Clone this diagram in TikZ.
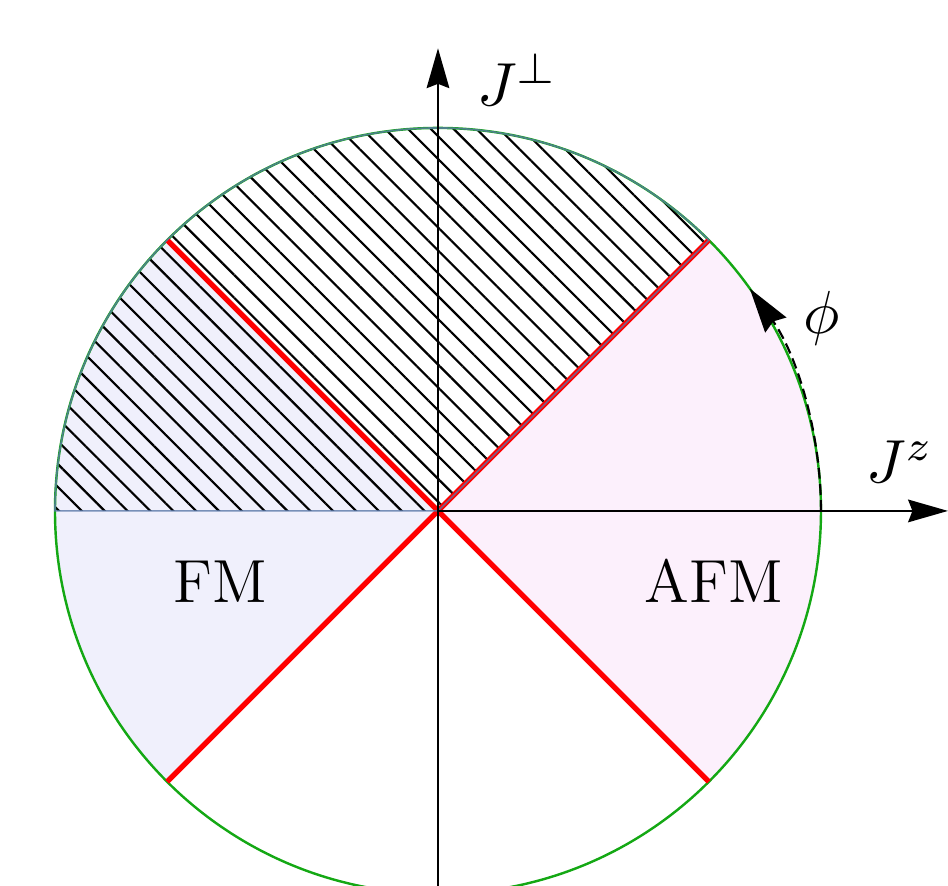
\RequirePackage{fix-cm}
\documentclass[tikz,border=0pt]{standalone}
\usepackage{amsmath,amssymb}
\usetikzlibrary{arrows.meta,patterns.meta}
\definecolor{fmblue}{HTML}{F0F0FC}
\definecolor{afmpink}{HTML}{FCF0FC}
\definecolor{circgreen}{HTML}{14A814}
\definecolor{edgeblue}{HTML}{5A78A8}
\tikzset{
  axis/.style={-{Stealth[length=7.4pt,width=4.2pt,inset=0.8pt]}},
  phaseline/.style={red,line width=1pt},
  lbl/.style={inner sep=0pt,font=\fontsize{11.3pt}{14pt}\selectfont},
}

\begin{document}
\begin{tikzpicture}[>=Stealth]
      \clip (-2.859,-2.448) rectangle (3.329,3.335);
      \def\R{2.5}
      \coordinate (o) at (0,0);
      \coordinate (ybot) at (0,-2.6);
      \coordinate (ytop) at (0,3.02);
      \coordinate (xtop) at (3.329,0);
      % phases
      \fill[fmblue] (o) -- (135:\R) arc[start angle=135,end angle=225,radius=\R] -- cycle;
      \fill[afmpink] (o) -- (-45:\R) arc[start angle=-45,end angle=45,radius=\R] -- cycle;
      \fill[pattern={Lines[angle=-45,distance=3pt,line width=0.4pt]}] (o) -- (45:\R) arc[start angle=45,end angle=180,radius=\R] -- cycle;
      \draw[circgreen,line width=0.45pt] (o) circle[radius=\R];
      % transitions
      \draw[phaseline] (o) -- (45:\R);
      \draw[phaseline] (o) -- (135:\R);
      \draw[phaseline] (o) -- (225:\R);
      \draw[phaseline] (o) -- (315:\R);
      \draw[edgeblue,line width=0.3pt,draw opacity=0.8] (o) -- (45:\R) arc[start angle=45,end angle=180,radius=\R] -- cycle;
      % angle
      \draw[dash pattern=on 2pt off 1pt,-{Stealth[length=8.3pt,width=4.8pt,inset=0.8pt]}] (0:\R) arc[start angle=0,end angle=35.5,radius=\R];
      \node[lbl] (phi) at (2.507,1.26) {$\phi$};
      % axes
      \draw[axis] (o) -- (xtop);
      \draw[axis] (ybot) -- (ytop);
      \node[lbl,anchor=base west] (jz) at (2.787,0.183) {$J^z$};
      \node[lbl,anchor=base west] (jperp) at (0.25,2.644) {$J^\perp$};
      \node[lbl,anchor=base] (fm) at (-1.42,-0.60) {FM};
      \node[lbl,anchor=base] (afm) at (1.80,-0.60) {AFM};
    \end{tikzpicture}
\end{document}
